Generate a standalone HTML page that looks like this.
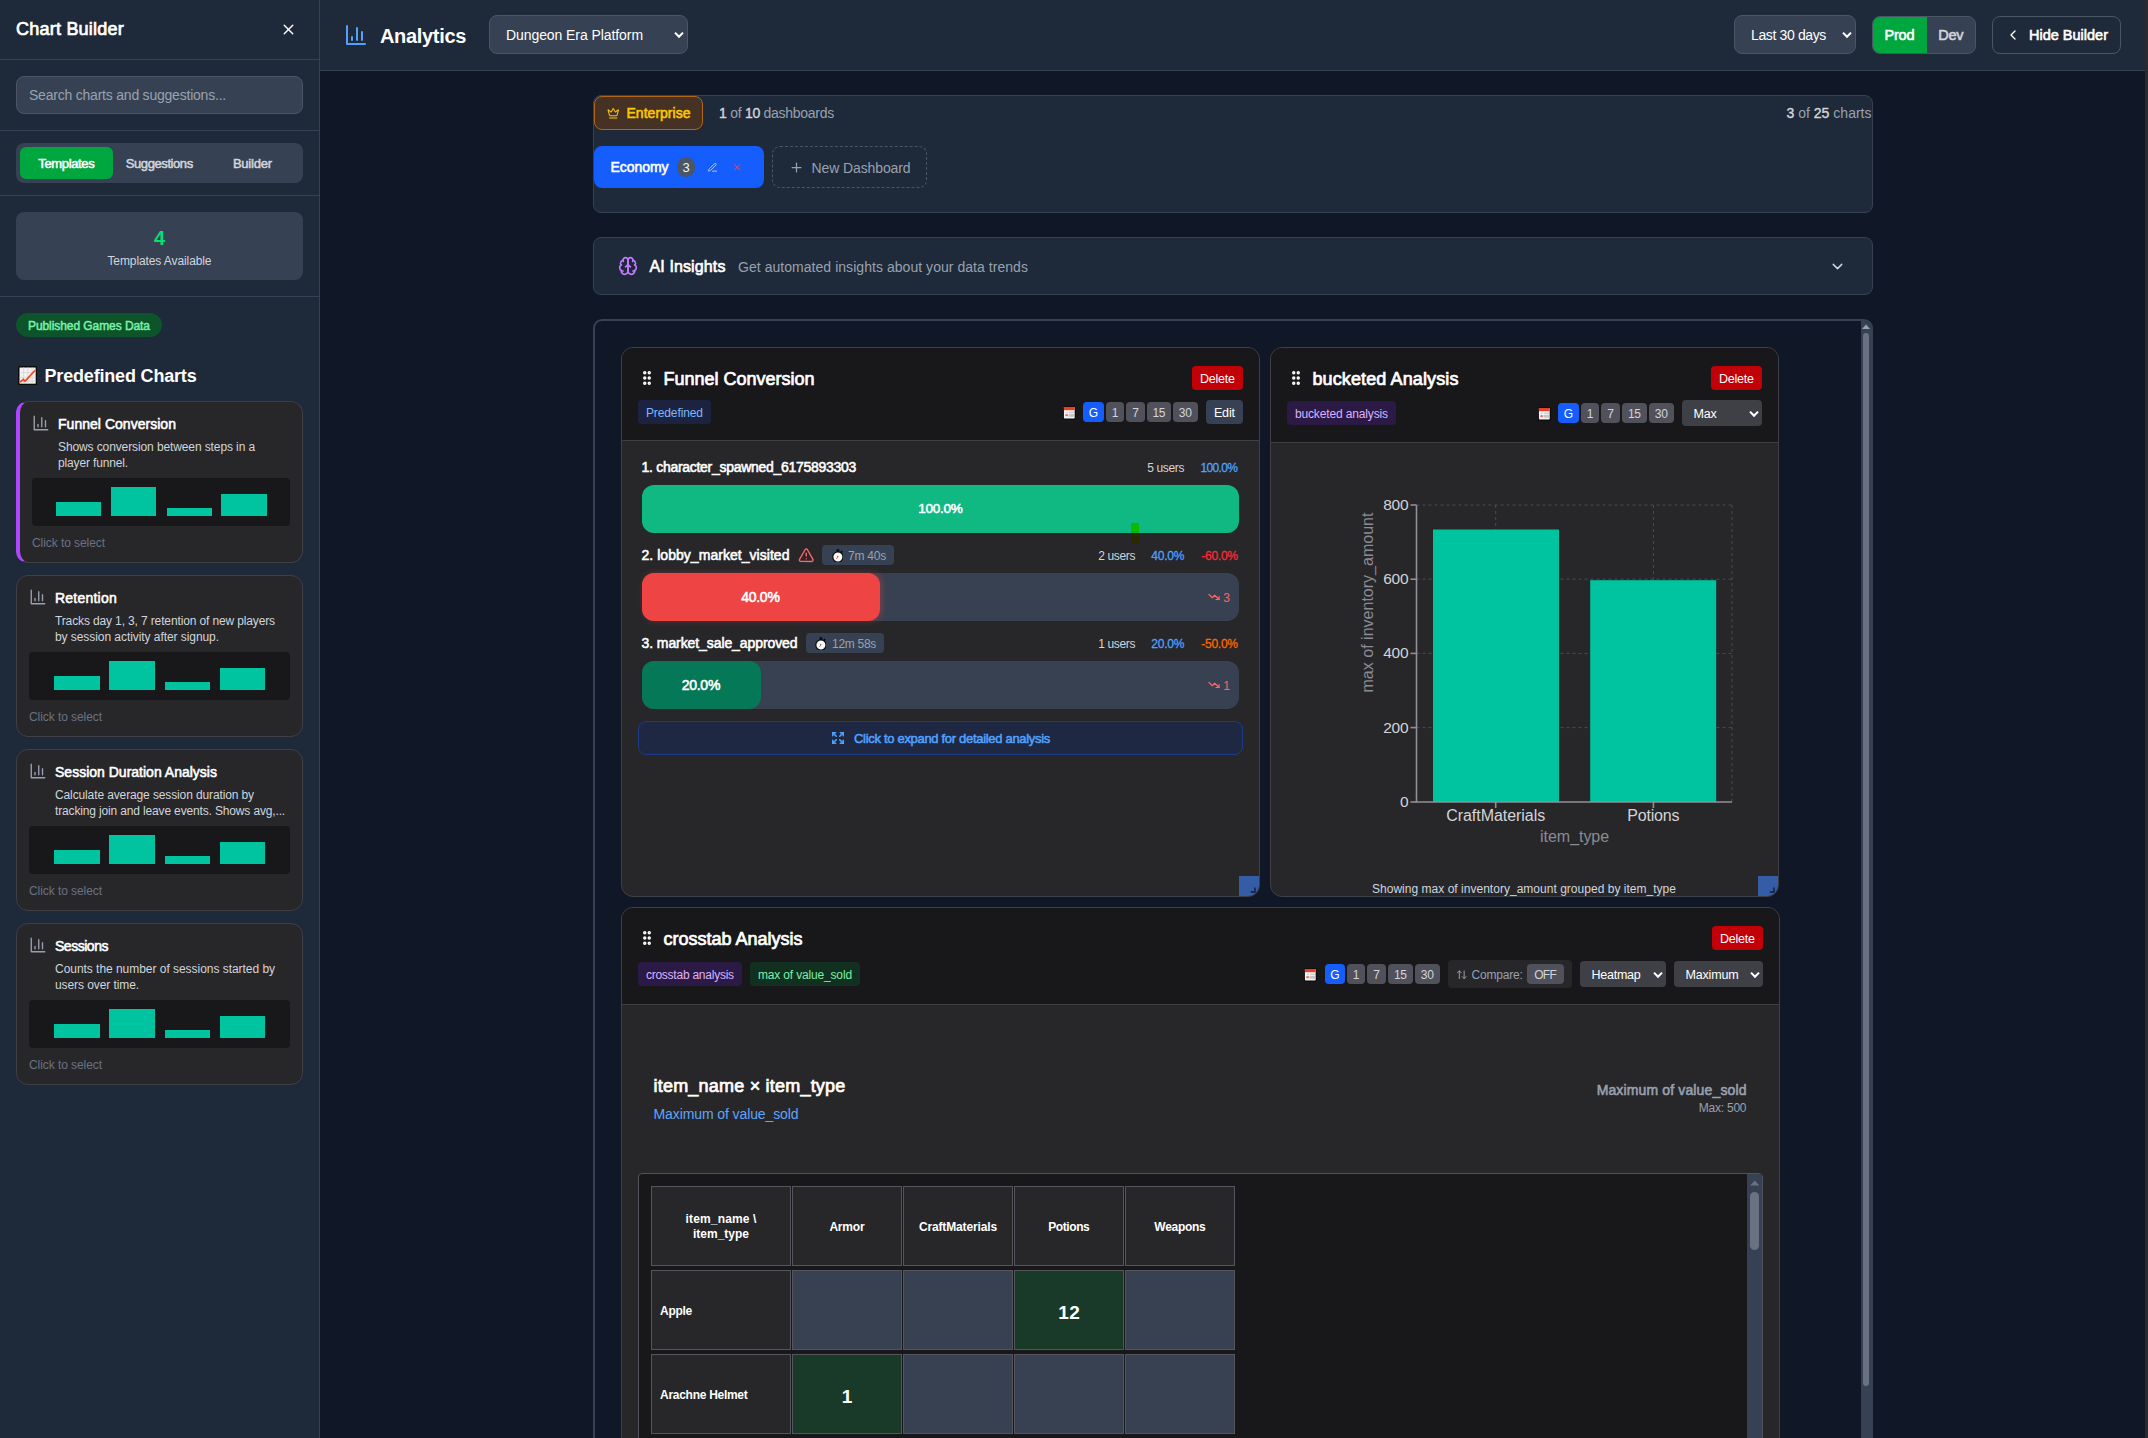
<!DOCTYPE html>
<html lang="en"><head><meta charset="utf-8"><title>Analytics</title>
<style>
*{box-sizing:border-box;margin:0;padding:0}
html,body{width:2148px;height:1438px;overflow:hidden;background:#101828;font-family:"Liberation Sans",sans-serif;color:#fff}
#root{position:relative;width:2148px;height:1438px;overflow:hidden}
.a{position:absolute}
.t{white-space:nowrap}
b{font-weight:400;color:#d1d5dc;-webkit-text-stroke:.4px}
</style></head>
<body><div id="root">
<div class="a" style="left:593px;top:319px;width:1280px;height:1200px;border:2px solid #364153;border-radius:9px;"></div>
<div class="a" style="left:1861px;top:321px;width:10px;height:1200px;background:#364153;border-radius:0 7px 0 0;"></div>
<svg class="a" style="left:1862px;top:324px" width="8" height="5" viewBox="0 0 8 5"><path d="M0 5 4 0.5 8 5z" fill="#99a1af"/></svg>
<div class="a" style="left:1863px;top:333px;width:6px;height:1052.5px;background:#6a7282;border-radius:3px;"></div>
<div class="a" style="left:621px;top:347px;width:639px;height:550px;background:#27272a;border:1px solid #3f3f46;border-radius:12px;overflow:hidden;"><div style="height:93px;background:#18181b;border-bottom:1px solid #3f3f46"></div></div>
<svg class="a" style="left:638px;top:369px;" width="18" height="18" viewBox="0 0 24 24" fill="none" stroke="#fff" stroke-width="2.6" stroke-linecap="round" stroke-linejoin="round"><circle cx="9" cy="12" r="1"/><circle cx="9" cy="5" r="1"/><circle cx="9" cy="19" r="1"/><circle cx="15" cy="12" r="1"/><circle cx="15" cy="5" r="1"/><circle cx="15" cy="19" r="1"/></svg>
<span class="a t" style="top:367.87px;font-size:18px;line-height:23px;color:#fff;-webkit-text-stroke:0.72px;letter-spacing:-0.006px;left:663.5px;">Funnel Conversion</span>
<div class="a" style="left:1192px;top:366px;width:51px;height:24px;background:#c10007;border-radius:4px;"></div>
<span class="a t" style="top:370.76px;font-size:12.5px;line-height:16px;color:#fff;letter-spacing:-0.190px;left:1217.4px;transform:translateX(-50%);">Delete</span>
<div class="a" style="left:638px;top:400px;width:73px;height:24px;background:#1b2341;border-radius:4px;"></div>
<span class="a t" style="top:404.88px;font-size:12px;line-height:16px;color:#7db8ff;letter-spacing:-0.105px;left:674.45px;transform:translateX(-50%);">Predefined</span>
<svg class="a" style="left:1063.2px;top:406.2px" width="12.6" height="13.4" viewBox="0 0 12.6 13.4"><rect x="0" y="0" width="12.6" height="13.4" rx="1.6" fill="#050505"/><rect x="0.9" y="0.9" width="10.8" height="11.6" rx=".7" fill="#f4f4f4"/><rect x="0.9" y="0.9" width="10.8" height="3.3" fill="#e8412b"/><rect x="6" y="5.6" width="5" height="1.6" fill="#cfcfcf"/><rect x="2.6" y="5.6" width="2.6" height="1.6" fill="#dcdcdc"/><rect x="2.4" y="8.2" width="2.4" height="2" fill="#e36a5a"/><rect x="5.6" y="8" width="5.4" height="2.8" fill="#c6c6c6"/></svg>
<div class="a" style="left:1083px;top:402px;width:21px;height:20px;background:#155dfc;border-radius:4px;"></div>
<span class="a t" style="top:404.58px;font-size:12px;line-height:16px;color:#fff;left:1093.5px;transform:translateX(-50%);">G</span>
<div class="a" style="left:1106.1px;top:402px;width:18px;height:20px;background:#51515b;border-radius:4px;"></div>
<span class="a t" style="top:404.58px;font-size:12px;line-height:16px;color:#d1d5dc;left:1115.1px;transform:translateX(-50%);">1</span>
<div class="a" style="left:1126.2px;top:402px;width:18.6px;height:20px;background:#51515b;border-radius:4px;"></div>
<span class="a t" style="top:404.58px;font-size:12px;line-height:16px;color:#d1d5dc;left:1135.5px;transform:translateX(-50%);">7</span>
<div class="a" style="left:1146.9px;top:402px;width:24.1px;height:20px;background:#51515b;border-radius:4px;"></div>
<span class="a t" style="top:404.58px;font-size:12px;line-height:16px;color:#d1d5dc;letter-spacing:-0.380px;left:1158.71px;transform:translateX(-50%);">15</span>
<div class="a" style="left:1173.1px;top:402px;width:24.7px;height:20px;background:#51515b;border-radius:4px;"></div>
<span class="a t" style="top:404.58px;font-size:12px;line-height:16px;color:#d1d5dc;letter-spacing:-0.080px;left:1185.36px;transform:translateX(-50%);">30</span>
<div class="a" style="left:1206px;top:400px;width:37px;height:24px;background:#364153;border-radius:4px;"></div>
<span class="a t" style="top:404.56px;font-size:12.5px;line-height:16px;color:#fff;letter-spacing:-0.137px;left:1224.43px;transform:translateX(-50%);">Edit</span>
<span class="a t" style="top:458.21px;font-size:14px;line-height:18px;color:#fff;-webkit-text-stroke:0.56px;letter-spacing:-0.287px;left:641.5px;">1. character_spawned_6175893303</span>
<span class="a t" style="top:459.58px;font-size:12px;line-height:16px;color:#d1d5dc;letter-spacing:-0.337px;right:963.84px;">5 users</span>
<span class="a t" style="top:459.58px;font-size:12px;line-height:16px;color:#51a2ff;-webkit-text-stroke:0.26px;letter-spacing:-0.617px;right:910.62px;">100.0%</span>
<div class="a" style="left:642px;top:485px;width:597px;height:47.5px;background:#10b981;border-radius:12px;"></div>
<span class="a t" style="top:500.03px;font-size:13.5px;line-height:18px;color:#fff;-webkit-text-stroke:0.54px;letter-spacing:-0.299px;left:940.35px;transform:translateX(-50%);">100.0%</span>
<div class="a" style="left:1131px;top:523px;width:7.5px;height:9.5px;background:#0cb800;"></div>
<div class="a" style="left:1131px;top:532.5px;width:7.5px;height:11px;background:#2a2a02;"></div>
<span class="a t" style="top:546.21px;font-size:14px;line-height:18px;color:#fff;-webkit-text-stroke:0.56px;letter-spacing:0.040px;left:641.5px;">2. lobby_market_visited</span>
<svg class="a" style="left:798px;top:546.5px;" width="16.5" height="16.5" viewBox="0 0 24 24" fill="none" stroke="#ff6467" stroke-width="2" stroke-linecap="round" stroke-linejoin="round"><path d="m21.73 18-8-14a2 2 0 0 0-3.48 0l-8 14A2 2 0 0 0 4 21h16a2 2 0 0 0 1.73-3"/><path d="M12 9v4"/><path d="M12 17h.01"/></svg>
<div class="a" style="left:822px;top:545px;width:72px;height:20px;background:#364153;border-radius:4px;"></div>
<svg class="a" style="left:831.5px;top:548.6px" width="11.8" height="13.8" viewBox="0 0 11.8 13.8"><rect x="4.5" y="0.2" width="2.8" height="2.6" rx=".6" fill="#0a0a0a"/><rect x="8.7" y="2" width="1.9" height="1.7" fill="#0a0a0a" transform="rotate(42 9.6 2.8)"/><circle cx="5.9" cy="8" r="5.1" fill="#fafafa" stroke="#0a0a0a" stroke-width="1.2"/><path d="M5.9 8 L5.1 6.9" stroke="#333" stroke-width=".7" fill="none"/><path d="M6.3 7.6 L4.3 9.9" stroke="#e8412b" stroke-width=".8" fill="none"/></svg>
<span class="a t" style="top:547.78px;font-size:12px;line-height:16px;color:#99a1af;letter-spacing:-0.227px;left:848px;">7m 40s</span>
<span class="a t" style="top:547.58px;font-size:12px;line-height:16px;color:#d1d5dc;letter-spacing:-0.337px;right:1012.84px;">2 users</span>
<span class="a t" style="top:547.58px;font-size:12px;line-height:16px;color:#51a2ff;-webkit-text-stroke:0.26px;letter-spacing:-0.206px;right:963.71px;">40.0%</span>
<span class="a t" style="top:547.58px;font-size:12px;line-height:16px;color:#fb2c36;-webkit-text-stroke:0.26px;letter-spacing:-0.255px;right:910.26px;">-60.0%</span>
<div class="a" style="left:642px;top:573px;width:597px;height:47.5px;background:#374151;border-radius:12px;"></div>
<div class="a" style="left:642px;top:573px;width:238px;height:47.5px;background:#ef4444;border-radius:12px;box-shadow:2px 0 6px rgba(239,68,68,.35);"></div>
<span class="a t" style="top:588.01px;font-size:14px;line-height:18px;color:#fff;-webkit-text-stroke:0.56px;letter-spacing:-0.241px;left:760.38px;transform:translateX(-50%);">40.0%</span>
<svg class="a" style="left:1208px;top:590.5px;" width="12" height="12" viewBox="0 0 24 24" fill="none" stroke="#ff6467" stroke-width="2.4" stroke-linecap="round" stroke-linejoin="round"><polyline points="22 17 13.5 8.5 8.5 13.5 2 7"/><polyline points="16 17 22 17 22 11"/></svg>
<span class="a t" style="top:590.08px;font-size:12px;line-height:16px;color:#ff6467;right:918px;">3</span>
<span class="a t" style="top:634.21px;font-size:14px;line-height:18px;color:#fff;-webkit-text-stroke:0.56px;letter-spacing:-0.087px;left:641.5px;">3. market_sale_approved</span>
<div class="a" style="left:806px;top:633px;width:78px;height:20px;background:#364153;border-radius:4px;"></div>
<svg class="a" style="left:814.7px;top:636.6px" width="11.8" height="13.8" viewBox="0 0 11.8 13.8"><rect x="4.5" y="0.2" width="2.8" height="2.6" rx=".6" fill="#0a0a0a"/><rect x="8.7" y="2" width="1.9" height="1.7" fill="#0a0a0a" transform="rotate(42 9.6 2.8)"/><circle cx="5.9" cy="8" r="5.1" fill="#fafafa" stroke="#0a0a0a" stroke-width="1.2"/><path d="M5.9 8 L5.1 6.9" stroke="#333" stroke-width=".7" fill="none"/><path d="M6.3 7.6 L4.3 9.9" stroke="#e8412b" stroke-width=".8" fill="none"/></svg>
<span class="a t" style="top:635.78px;font-size:12px;line-height:16px;color:#99a1af;letter-spacing:-0.290px;left:832px;">12m 58s</span>
<span class="a t" style="top:635.58px;font-size:12px;line-height:16px;color:#d1d5dc;letter-spacing:-0.337px;right:1012.84px;">1 users</span>
<span class="a t" style="top:635.58px;font-size:12px;line-height:16px;color:#51a2ff;-webkit-text-stroke:0.26px;letter-spacing:-0.206px;right:963.71px;">20.0%</span>
<span class="a t" style="top:635.58px;font-size:12px;line-height:16px;color:#ff6900;-webkit-text-stroke:0.26px;letter-spacing:-0.255px;right:910.26px;">-50.0%</span>
<div class="a" style="left:642px;top:661px;width:597px;height:47.5px;background:#374151;border-radius:12px;"></div>
<div class="a" style="left:642px;top:661px;width:119px;height:47.5px;background:#047857;border-radius:12px;"></div>
<span class="a t" style="top:676.01px;font-size:14px;line-height:18px;color:#fff;-webkit-text-stroke:0.56px;letter-spacing:-0.241px;left:700.88px;transform:translateX(-50%);">20.0%</span>
<svg class="a" style="left:1208px;top:678.5px;" width="12" height="12" viewBox="0 0 24 24" fill="none" stroke="#ff6467" stroke-width="2.4" stroke-linecap="round" stroke-linejoin="round"><polyline points="22 17 13.5 8.5 8.5 13.5 2 7"/><polyline points="16 17 22 17 22 11"/></svg>
<span class="a t" style="top:678.08px;font-size:12px;line-height:16px;color:#ff6467;right:918px;">1</span>
<div class="a" style="left:638px;top:721px;width:605px;height:34px;background:#1e2843;border:1px solid #1d3a8a;border-radius:8px;"></div>
<svg class="a" style="left:831px;top:731.3px;" width="14" height="14" viewBox="0 0 24 24" fill="none" stroke="#51a2ff" stroke-width="2.6" stroke-linecap="round" stroke-linejoin="round"><path d="m15 15 6 6"/><path d="m15 9 6-6"/><path d="M21 16v5h-5"/><path d="M21 8V3h-5"/><path d="M3 16v5h5"/><path d="m3 21 6-6"/><path d="M3 8V3h5"/><path d="M9 9 3 3"/></svg>
<span class="a t" style="top:730.04px;font-size:13px;line-height:17px;color:#51a2ff;-webkit-text-stroke:0.52px;letter-spacing:-0.308px;left:854px;">Click to expand for detailed analysis</span>
<div class="a" style="left:1239px;top:876px;width:20px;height:20px;background:#345da6;border-radius:0 0 11px 0;"></div>
<svg class="a" style="left:1250px;top:887px" width="6" height="6" viewBox="0 0 6 6"><path d="M5 0.5V5H0.8" stroke="#131c38" stroke-width="1.4" fill="none"/></svg>
<div class="a" style="left:1270px;top:347px;width:509px;height:550px;background:#27272a;border:1px solid #3f3f46;border-radius:12px;overflow:hidden;"><div style="height:95px;background:#18181b;border-bottom:1px solid #3f3f46"></div></div>
<svg class="a" style="left:1287px;top:369px;" width="18" height="18" viewBox="0 0 24 24" fill="none" stroke="#fff" stroke-width="2.6" stroke-linecap="round" stroke-linejoin="round"><circle cx="9" cy="12" r="1"/><circle cx="9" cy="5" r="1"/><circle cx="9" cy="19" r="1"/><circle cx="15" cy="12" r="1"/><circle cx="15" cy="5" r="1"/><circle cx="15" cy="19" r="1"/></svg>
<span class="a t" style="top:367.87px;font-size:18px;line-height:23px;color:#fff;-webkit-text-stroke:0.72px;letter-spacing:0.112px;left:1312.5px;">bucketed Analysis</span>
<div class="a" style="left:1711px;top:366px;width:51px;height:24px;background:#c10007;border-radius:4px;"></div>
<span class="a t" style="top:370.76px;font-size:12.5px;line-height:16px;color:#fff;letter-spacing:-0.190px;left:1736.4px;transform:translateX(-50%);">Delete</span>
<div class="a" style="left:1287px;top:401px;width:109px;height:24px;background:#2b1a45;border-radius:4px;"></div>
<span class="a t" style="top:405.88px;font-size:12px;line-height:16px;color:#dab2ff;letter-spacing:-0.141px;left:1341.43px;transform:translateX(-50%);">bucketed analysis</span>
<svg class="a" style="left:1538.3px;top:407.2px" width="12.6" height="13.4" viewBox="0 0 12.6 13.4"><rect x="0" y="0" width="12.6" height="13.4" rx="1.6" fill="#050505"/><rect x="0.9" y="0.9" width="10.8" height="11.6" rx=".7" fill="#f4f4f4"/><rect x="0.9" y="0.9" width="10.8" height="3.3" fill="#e8412b"/><rect x="6" y="5.6" width="5" height="1.6" fill="#cfcfcf"/><rect x="2.6" y="5.6" width="2.6" height="1.6" fill="#dcdcdc"/><rect x="2.4" y="8.2" width="2.4" height="2" fill="#e36a5a"/><rect x="5.6" y="8" width="5.4" height="2.8" fill="#c6c6c6"/></svg>
<div class="a" style="left:1558px;top:403px;width:21px;height:20px;background:#155dfc;border-radius:4px;"></div>
<span class="a t" style="top:405.58px;font-size:12px;line-height:16px;color:#fff;left:1568.5px;transform:translateX(-50%);">G</span>
<div class="a" style="left:1581px;top:403px;width:18px;height:20px;background:#51515b;border-radius:4px;"></div>
<span class="a t" style="top:405.58px;font-size:12px;line-height:16px;color:#d1d5dc;left:1590.0px;transform:translateX(-50%);">1</span>
<div class="a" style="left:1601px;top:403px;width:19px;height:20px;background:#51515b;border-radius:4px;"></div>
<span class="a t" style="top:405.58px;font-size:12px;line-height:16px;color:#d1d5dc;left:1610.5px;transform:translateX(-50%);">7</span>
<div class="a" style="left:1622px;top:403px;width:24.8px;height:20px;background:#51515b;border-radius:4px;"></div>
<span class="a t" style="top:405.58px;font-size:12px;line-height:16px;color:#d1d5dc;letter-spacing:-0.380px;left:1634.21px;transform:translateX(-50%);">15</span>
<div class="a" style="left:1648.8px;top:403px;width:25.2px;height:20px;background:#51515b;border-radius:4px;"></div>
<span class="a t" style="top:405.58px;font-size:12px;line-height:16px;color:#d1d5dc;letter-spacing:-0.080px;left:1661.36px;transform:translateX(-50%);">30</span>
<div class="a" style="left:1682px;top:400px;width:80px;height:26px;background:#3f3f46;border-radius:4px;"></div>
<span class="a t" style="top:405.56px;font-size:12.5px;line-height:16px;color:#fff;letter-spacing:-0.208px;left:1693.5px;">Max</span>
<svg class="a" style="left:1748px;top:407.5px" width="12" height="12" viewBox="0 0 12 12" fill="none" stroke="#fff" stroke-width="2" stroke-linecap="butt" stroke-linejoin="miter"><path d="M2 3.6 6 7.8 10 3.6"/></svg>
<svg class="a" style="left:0;top:0" width="2148" height="1438" viewBox="0 0 2148 1438"><path d="M1416.5 505H1732" stroke="#4a4a50" stroke-width="1" stroke-dasharray="3 3"/><path d="M1416.5 579.2H1732" stroke="#4a4a50" stroke-width="1" stroke-dasharray="3 3"/><path d="M1416.5 653.4H1732" stroke="#4a4a50" stroke-width="1" stroke-dasharray="3 3"/><path d="M1416.5 727.6H1732" stroke="#4a4a50" stroke-width="1" stroke-dasharray="3 3"/><path d="M1495.7 505V802" stroke="#4a4a50" stroke-width="1" stroke-dasharray="3 3"/><path d="M1653.4 505V802" stroke="#4a4a50" stroke-width="1" stroke-dasharray="3 3"/><path d="M1732 505V802" stroke="#4a4a50" stroke-width="1" stroke-dasharray="3 3"/><rect x="1433" y="529.5" width="126" height="272.5" fill="#00c49f"/><rect x="1590.2" y="580.2" width="126" height="221.79999999999995" fill="#00c49f"/><path d="M1416.5 505V802H1732" stroke="#909095" stroke-width="1.6" fill="none"/><path d="M1410.5 505H1416.5" stroke="#909095" stroke-width="1.6"/><path d="M1410.5 579.2H1416.5" stroke="#909095" stroke-width="1.6"/><path d="M1410.5 653.4H1416.5" stroke="#909095" stroke-width="1.6"/><path d="M1410.5 727.6H1416.5" stroke="#909095" stroke-width="1.6"/><path d="M1410.5 802H1416.5" stroke="#909095" stroke-width="1.6"/><path d="M1495.7 802V808" stroke="#909095" stroke-width="1.6"/><path d="M1653.4 802V808" stroke="#909095" stroke-width="1.6"/></svg>
<span class="a t" style="top:494.96px;font-size:15.5px;line-height:20px;color:#d4d4d8;letter-spacing:-0.292px;right:739.79px;">800</span>
<span class="a t" style="top:569.16px;font-size:15.5px;line-height:20px;color:#d4d4d8;letter-spacing:-0.292px;right:739.79px;">600</span>
<span class="a t" style="top:643.36px;font-size:15.5px;line-height:20px;color:#d4d4d8;letter-spacing:-0.292px;right:739.79px;">400</span>
<span class="a t" style="top:717.56px;font-size:15.5px;line-height:20px;color:#d4d4d8;letter-spacing:-0.292px;right:739.79px;">200</span>
<span class="a t" style="top:791.96px;font-size:15.5px;line-height:20px;color:#d4d4d8;letter-spacing:-0.125px;right:739.62px;">0</span>
<span class="a t" style="top:804.94px;font-size:16px;line-height:21px;color:#d4d4d8;letter-spacing:-0.041px;left:1495.68px;transform:translateX(-50%);">CraftMaterials</span>
<span class="a t" style="top:804.94px;font-size:16px;line-height:21px;color:#d4d4d8;letter-spacing:-0.196px;left:1653.3px;transform:translateX(-50%);">Potions</span>
<span class="a t" style="top:825.94px;font-size:16px;line-height:21px;color:#8b8b93;letter-spacing:-0.042px;left:1574.58px;transform:translateX(-50%);">item_type</span>
<span class="a t" style="top:592.44px;font-size:16px;line-height:21px;color:#8b8b93;letter-spacing:0.015px;left:1367.01px;transform:translateX(-50%) rotate(-90deg);">max of inventory_amount</span>
<span class="a t" style="top:880.58px;font-size:12px;line-height:16px;color:#d1d5dc;letter-spacing:0.022px;left:1524.01px;transform:translateX(-50%);">Showing max of inventory_amount grouped by item_type</span>
<div class="a" style="left:1758px;top:876px;width:20px;height:20px;background:#345da6;border-radius:0 0 11px 0;"></div>
<svg class="a" style="left:1769px;top:887px" width="6" height="6" viewBox="0 0 6 6"><path d="M5 0.5V5H0.8" stroke="#131c38" stroke-width="1.4" fill="none"/></svg>
<div class="a" style="left:621px;top:907px;width:1159px;height:700px;background:#27272a;border:1px solid #3f3f46;border-radius:12px;overflow:hidden;"><div style="height:97px;background:#18181b;border-bottom:1px solid #3f3f46"></div></div>
<svg class="a" style="left:638px;top:929px;" width="18" height="18" viewBox="0 0 24 24" fill="none" stroke="#fff" stroke-width="2.6" stroke-linecap="round" stroke-linejoin="round"><circle cx="9" cy="12" r="1"/><circle cx="9" cy="5" r="1"/><circle cx="9" cy="19" r="1"/><circle cx="15" cy="12" r="1"/><circle cx="15" cy="5" r="1"/><circle cx="15" cy="19" r="1"/></svg>
<span class="a t" style="top:927.87px;font-size:18px;line-height:23px;color:#fff;-webkit-text-stroke:0.72px;letter-spacing:-0.004px;left:663.5px;">crosstab Analysis</span>
<div class="a" style="left:1712px;top:926px;width:51px;height:24px;background:#c10007;border-radius:4px;"></div>
<span class="a t" style="top:930.76px;font-size:12.5px;line-height:16px;color:#fff;letter-spacing:-0.190px;left:1737.4px;transform:translateX(-50%);">Delete</span>
<div class="a" style="left:638px;top:962px;width:104px;height:24px;background:#2b1a45;border-radius:4px;"></div>
<span class="a t" style="top:966.88px;font-size:12px;line-height:16px;color:#dab2ff;letter-spacing:-0.238px;left:689.88px;transform:translateX(-50%);">crosstab analysis</span>
<div class="a" style="left:750px;top:962px;width:110px;height:24px;background:#12301f;border-radius:4px;"></div>
<span class="a t" style="top:966.88px;font-size:12px;line-height:16px;color:#7bf1a8;letter-spacing:-0.161px;left:804.92px;transform:translateX(-50%);">max of value_sold</span>
<svg class="a" style="left:1304.4px;top:968.2px" width="12.6" height="13.4" viewBox="0 0 12.6 13.4"><rect x="0" y="0" width="12.6" height="13.4" rx="1.6" fill="#050505"/><rect x="0.9" y="0.9" width="10.8" height="11.6" rx=".7" fill="#f4f4f4"/><rect x="0.9" y="0.9" width="10.8" height="3.3" fill="#e8412b"/><rect x="6" y="5.6" width="5" height="1.6" fill="#cfcfcf"/><rect x="2.6" y="5.6" width="2.6" height="1.6" fill="#dcdcdc"/><rect x="2.4" y="8.2" width="2.4" height="2" fill="#e36a5a"/><rect x="5.6" y="8" width="5.4" height="2.8" fill="#c6c6c6"/></svg>
<div class="a" style="left:1325px;top:964px;width:20px;height:20px;background:#155dfc;border-radius:4px;"></div>
<span class="a t" style="top:966.58px;font-size:12px;line-height:16px;color:#fff;left:1335.0px;transform:translateX(-50%);">G</span>
<div class="a" style="left:1347.1px;top:964px;width:18px;height:20px;background:#51515b;border-radius:4px;"></div>
<span class="a t" style="top:966.58px;font-size:12px;line-height:16px;color:#d1d5dc;left:1356.1px;transform:translateX(-50%);">1</span>
<div class="a" style="left:1367.2px;top:964px;width:18.7px;height:20px;background:#51515b;border-radius:4px;"></div>
<span class="a t" style="top:966.58px;font-size:12px;line-height:16px;color:#d1d5dc;left:1376.5px;transform:translateX(-50%);">7</span>
<div class="a" style="left:1388.0px;top:964px;width:24.8px;height:20px;background:#51515b;border-radius:4px;"></div>
<span class="a t" style="top:966.58px;font-size:12px;line-height:16px;color:#d1d5dc;letter-spacing:-0.380px;left:1400.21px;transform:translateX(-50%);">15</span>
<div class="a" style="left:1414.9px;top:964px;width:25px;height:20px;background:#51515b;border-radius:4px;"></div>
<span class="a t" style="top:966.58px;font-size:12px;line-height:16px;color:#d1d5dc;letter-spacing:-0.080px;left:1427.36px;transform:translateX(-50%);">30</span>
<div class="a" style="left:1448px;top:960px;width:124px;height:28px;background:#27272a;border-radius:4px;"></div>
<svg class="a" style="left:1456px;top:969px;" width="11.5" height="11.5" viewBox="0 0 24 24" fill="none" stroke="#99a1af" stroke-width="2" stroke-linecap="round" stroke-linejoin="round"><path d="m21 16-4 4-4-4"/><path d="M17 20V4"/><path d="m3 8 4-4 4 4"/><path d="M7 4v16"/></svg>
<span class="a t" style="top:966.58px;font-size:12px;line-height:16px;color:#99a1af;letter-spacing:-0.211px;left:1471.5px;">Compare:</span>
<div class="a" style="left:1527px;top:964px;width:37px;height:20px;background:#51515b;border-radius:4px;"></div>
<span class="a t" style="top:966.58px;font-size:12px;line-height:16px;color:#d1d5dc;letter-spacing:-0.667px;left:1545.17px;transform:translateX(-50%);">OFF</span>
<div class="a" style="left:1580px;top:961px;width:86px;height:26px;background:#3f3f46;border-radius:4px;"></div>
<span class="a t" style="top:966.56px;font-size:12.5px;line-height:16px;color:#fff;letter-spacing:-0.248px;left:1591.5px;">Heatmap</span>
<svg class="a" style="left:1651.5px;top:968.5px" width="12" height="12" viewBox="0 0 12 12" fill="none" stroke="#fff" stroke-width="2" stroke-linecap="butt" stroke-linejoin="miter"><path d="M2 3.6 6 7.8 10 3.6"/></svg>
<div class="a" style="left:1674px;top:961px;width:89px;height:26px;background:#3f3f46;border-radius:4px;"></div>
<span class="a t" style="top:966.56px;font-size:12.5px;line-height:16px;color:#fff;letter-spacing:-0.167px;left:1685.5px;">Maximum</span>
<svg class="a" style="left:1748.5px;top:968.5px" width="12" height="12" viewBox="0 0 12 12" fill="none" stroke="#fff" stroke-width="2" stroke-linecap="butt" stroke-linejoin="miter"><path d="M2 3.6 6 7.8 10 3.6"/></svg>
<span class="a t" style="top:1075.37px;font-size:18px;line-height:23px;color:#fff;-webkit-text-stroke:0.72px;letter-spacing:0.210px;left:653.5px;">item_name × item_type</span>
<span class="a t" style="top:1104.51px;font-size:14px;line-height:18px;color:#60a5fa;letter-spacing:-0.098px;left:653.5px;">Maximum of value_sold</span>
<span class="a t" style="top:1080.51px;font-size:14px;line-height:18px;color:#99a1af;-webkit-text-stroke:0.56px;letter-spacing:0.140px;right:401.36px;">Maximum of value_sold</span>
<span class="a t" style="top:1099.58px;font-size:12px;line-height:16px;color:#99a1af;letter-spacing:-0.232px;right:401.73px;">Max: 500</span>
<div class="a" style="left:638px;top:1173px;width:1125px;height:400px;background:#18181b;border:1px solid #52525c;border-radius:4px 4px 0 0;"></div>
<div class="a" style="left:1747px;top:1174px;width:15px;height:400px;background:#364153;border-radius:0 3px 0 0;"></div>
<svg class="a" style="left:1750px;top:1180px" width="9.5" height="5.5" viewBox="0 0 10 6"><path d="M0 6 5 0.5 10 6z" fill="#6a7282"/></svg>
<div class="a" style="left:1750px;top:1192px;width:9px;height:58px;background:#6a7282;border-radius:4.5px;"></div>
<div class="a" style="left:651px;top:1186px;width:140px;height:80px;background:#27272a;border:1px solid #55555e;"></div>
<span class="a t" style="top:1210.58px;font-size:12px;line-height:16px;color:#fff;font-weight:700;letter-spacing:0.148px;left:721.07px;transform:translateX(-50%);">item_name \</span>
<span class="a t" style="top:1225.58px;font-size:12px;line-height:16px;color:#fff;font-weight:700;letter-spacing:-0.003px;left:721.0px;transform:translateX(-50%);">item_type</span>
<div class="a" style="left:792px;top:1186px;width:110px;height:80px;background:#27272a;border:1px solid #55555e;"></div>
<span class="a t" style="top:1218.58px;font-size:12px;line-height:16px;color:#fff;font-weight:700;letter-spacing:-0.203px;left:846.9px;transform:translateX(-50%);">Armor</span>
<div class="a" style="left:903px;top:1186px;width:110px;height:80px;background:#27272a;border:1px solid #55555e;"></div>
<span class="a t" style="top:1218.58px;font-size:12px;line-height:16px;color:#fff;font-weight:700;letter-spacing:-0.145px;left:957.93px;transform:translateX(-50%);">CraftMaterials</span>
<div class="a" style="left:1014px;top:1186px;width:110px;height:80px;background:#27272a;border:1px solid #55555e;"></div>
<span class="a t" style="top:1218.58px;font-size:12px;line-height:16px;color:#fff;font-weight:700;letter-spacing:-0.429px;left:1068.79px;transform:translateX(-50%);">Potions</span>
<div class="a" style="left:1125px;top:1186px;width:110px;height:80px;background:#27272a;border:1px solid #55555e;"></div>
<span class="a t" style="top:1218.58px;font-size:12px;line-height:16px;color:#fff;font-weight:700;letter-spacing:-0.304px;left:1179.85px;transform:translateX(-50%);">Weapons</span>
<div class="a" style="left:651px;top:1270px;width:140px;height:80px;background:#27272a;border:1px solid #55555e;"></div>
<span class="a t" style="top:1302.58px;font-size:12px;line-height:16px;color:#fff;font-weight:700;letter-spacing:-0.269px;left:660px;">Apple</span>
<div class="a" style="left:792px;top:1270px;width:110px;height:80px;background:#374151;border:1px solid #55555e;"></div>
<div class="a" style="left:903px;top:1270px;width:110px;height:80px;background:#374151;border:1px solid #55555e;"></div>
<div class="a" style="left:1014px;top:1270px;width:110px;height:80px;background:#1a3a29;border:1px solid #55555e;"></div>
<span class="a t" style="top:1299.84px;font-size:19px;line-height:25px;color:#fff;font-weight:700;letter-spacing:0.330px;left:1069.16px;transform:translateX(-50%);">12</span>
<div class="a" style="left:1125px;top:1270px;width:110px;height:80px;background:#374151;border:1px solid #55555e;"></div>
<div class="a" style="left:651px;top:1354px;width:140px;height:80px;background:#27272a;border:1px solid #55555e;"></div>
<span class="a t" style="top:1386.58px;font-size:12px;line-height:16px;color:#fff;font-weight:700;letter-spacing:-0.277px;left:660px;">Arachne Helmet</span>
<div class="a" style="left:792px;top:1354px;width:110px;height:80px;background:#1a3a29;border:1px solid #55555e;"></div>
<span class="a t" style="top:1383.84px;font-size:19px;line-height:25px;color:#fff;font-weight:700;left:847.0px;transform:translateX(-50%);">1</span>
<div class="a" style="left:903px;top:1354px;width:110px;height:80px;background:#374151;border:1px solid #55555e;"></div>
<div class="a" style="left:1014px;top:1354px;width:110px;height:80px;background:#374151;border:1px solid #55555e;"></div>
<div class="a" style="left:1125px;top:1354px;width:110px;height:80px;background:#374151;border:1px solid #55555e;"></div>
<div class="a" style="left:593px;top:95px;width:1280px;height:118px;background:#1e2939;border:1px solid #364153;border-radius:8px;"></div>
<div class="a" style="left:594px;top:96px;width:109px;height:34px;background:#463224;border:1px solid #b1660f;border-radius:8px;"></div>
<svg class="a" style="left:606.5px;top:107px;" width="12.5" height="12.5" viewBox="0 0 24 24" fill="none" stroke="#fdc700" stroke-width="2" stroke-linecap="round" stroke-linejoin="round"><path d="M11.562 3.266a.5.5 0 0 1 .876 0L15.39 8.87a1 1 0 0 0 1.516.294L21.183 5.5a.5.5 0 0 1 .798.519l-2.834 10.246a1 1 0 0 1-.956.734H5.81a1 1 0 0 1-.957-.734L2.02 6.02a.5.5 0 0 1 .798-.519l4.276 3.664a1 1 0 0 0 1.516-.294z"/><path d="M5 21h14"/></svg>
<span class="a t" style="top:104.01px;font-size:14px;line-height:18px;color:#fdc700;-webkit-text-stroke:0.56px;letter-spacing:0.019px;left:626.5px;">Enterprise</span>
<span class="a t" style="top:104.01px;font-size:14px;line-height:18px;color:#99a1af;letter-spacing:-0.273px;left:719px;"><b>1</b> of <b>10</b> dashboards</span>
<span class="a t" style="top:104.01px;font-size:14px;line-height:18px;color:#99a1af;letter-spacing:0.010px;right:276.49px;"><b>3</b> of <b>25</b> charts</span>
<div class="a" style="left:594px;top:146px;width:170px;height:42px;background:#155dfc;border-radius:8px;"></div>
<span class="a t" style="top:158.01px;font-size:14px;line-height:18px;color:#fff;-webkit-text-stroke:0.56px;letter-spacing:-0.051px;left:610.5px;">Economy</span>
<div class="a" style="left:677px;top:157px;width:18px;height:20px;background:#4a5565;border-radius:9px;"></div>
<span class="a t" style="top:158.54px;font-size:13px;line-height:17px;color:#f3f4f6;left:686.0px;transform:translateX(-50%);">3</span>
<svg class="a" style="left:707px;top:162px;" width="11" height="11" viewBox="0 0 24 24" fill="none" stroke="#b8cffb" stroke-width="2" stroke-linecap="round" stroke-linejoin="round"><path d="M12 20h9"/><path d="M16.376 3.622a1 1 0 0 1 3.002 3.002L7.368 18.635a2 2 0 0 1-.855.506l-2.872.838a.5.5 0 0 1-.62-.62l.838-2.872a2 2 0 0 1 .506-.854z"/></svg>
<svg class="a" style="left:731.5px;top:162px;" width="10.5" height="10.5" viewBox="0 0 24 24" fill="none" stroke="#e8557f" stroke-width="1.9" stroke-linecap="round" stroke-linejoin="round"><path d="M18 6 6 18"/><path d="m6 6 12 12"/></svg>
<div class="a" style="left:772px;top:146px;width:155px;height:42px;border:1px dashed #4a5565;border-radius:8px;"></div>
<svg class="a" style="left:788.5px;top:159.6px;" width="15" height="15" viewBox="0 0 24 24" fill="none" stroke="#99a1af" stroke-width="2" stroke-linecap="round" stroke-linejoin="round"><path d="M5 12h14"/><path d="M12 5v14"/></svg>
<span class="a t" style="top:158.71px;font-size:14px;line-height:18px;color:#99a1af;letter-spacing:-0.107px;left:811.5px;">New Dashboard</span>
<div class="a" style="left:593px;top:237px;width:1280px;height:58px;background:#1e2939;border:1px solid #364153;border-radius:8px;"></div>
<svg class="a" style="left:617.5px;top:256px;" width="20" height="20" viewBox="0 0 24 24" fill="none" stroke="#c27aff" stroke-width="2" stroke-linecap="round" stroke-linejoin="round"><path d="M12 5a3 3 0 1 0-5.997.125 4 4 0 0 0-2.526 5.77 4 4 0 0 0 .556 6.588A4 4 0 1 0 12 18Z"/><path d="M12 5a3 3 0 1 1 5.997.125 4 4 0 0 1 2.526 5.77 4 4 0 0 1-.556 6.588A4 4 0 1 1 12 18Z"/><path d="M15 13a4.5 4.5 0 0 1-3-4 4.5 4.5 0 0 1-3 4"/><path d="M17.599 6.5a3 3 0 0 0 .399-1.375"/><path d="M6.003 5.125A3 3 0 0 0 6.401 6.5"/><path d="M3.477 10.896a4 4 0 0 1 .585-.396"/><path d="M19.938 10.5a4 4 0 0 1 .585.396"/><path d="M6 18a4 4 0 0 1-1.967-.516"/><path d="M19.967 17.484A4 4 0 0 1 18 18"/></svg>
<span class="a t" style="top:255.94px;font-size:16px;line-height:21px;color:#fff;-webkit-text-stroke:0.64px;letter-spacing:0.118px;left:649.5px;">AI Insights</span>
<span class="a t" style="top:257.51px;font-size:14px;line-height:18px;color:#99a1af;letter-spacing:0.045px;left:738px;">Get automated insights about your data trends</span>
<svg class="a" style="left:1829px;top:258px;" width="17" height="17" viewBox="0 0 24 24" fill="none" stroke="#d1d5dc" stroke-width="2" stroke-linecap="round" stroke-linejoin="round"><path d="m6 9 6 6 6-6"/></svg>
<div class="a" style="left:320px;top:0px;width:1825px;height:70px;background:#1e2939;"></div>
<div class="a" style="left:320px;top:70px;width:1825px;height:1px;background:#364153;"></div>
<svg class="a" style="left:344px;top:23px;" width="24" height="24" viewBox="0 0 24 24" fill="none" stroke="#51a2ff" stroke-width="2" stroke-linecap="round" stroke-linejoin="round"><path d="M3 3v18h18"/><path d="M18 17V9"/><path d="M13 17V5"/><path d="M8 17v-3"/></svg>
<span class="a t" style="top:23.1px;font-size:20px;line-height:26px;color:#fff;font-weight:700;letter-spacing:-0.326px;left:380px;">Analytics</span>
<div class="a" style="left:489px;top:15px;width:199px;height:39px;background:#364153;border:1px solid #4a5565;border-radius:8px;"></div>
<span class="a t" style="top:26.01px;font-size:14px;line-height:18px;color:#fff;letter-spacing:-0.077px;left:506px;">Dungeon Era Platform</span>
<svg class="a" style="left:672.5px;top:29px" width="12" height="12" viewBox="0 0 12 12" fill="none" stroke="#fff" stroke-width="2" stroke-linecap="butt" stroke-linejoin="miter"><path d="M2 3.6 6 7.8 10 3.6"/></svg>
<div class="a" style="left:1734px;top:15px;width:122px;height:39px;background:#364153;border:1px solid #4a5565;border-radius:8px;"></div>
<span class="a t" style="top:26.01px;font-size:14px;line-height:18px;color:#fff;letter-spacing:-0.366px;left:1751px;">Last 30 days</span>
<svg class="a" style="left:1841px;top:29px" width="12" height="12" viewBox="0 0 12 12" fill="none" stroke="#fff" stroke-width="2" stroke-linecap="butt" stroke-linejoin="miter"><path d="M2 3.6 6 7.8 10 3.6"/></svg>
<div class="a" style="left:1872px;top:16px;width:104px;height:38px;background:#364153;border:1px solid #4a5565;border-radius:8px;"></div>
<div class="a" style="left:1873px;top:17px;width:54px;height:36px;background:#00a63e;border-radius:7px 0 0 7px;"></div>
<span class="a t" style="top:26.49px;font-size:14.5px;line-height:19px;color:#fff;-webkit-text-stroke:0.58px;letter-spacing:-0.160px;left:1899.42px;transform:translateX(-50%);">Prod</span>
<span class="a t" style="top:26.49px;font-size:14.5px;line-height:19px;color:#d1d5dc;-webkit-text-stroke:0.58px;letter-spacing:-0.266px;left:1950.87px;transform:translateX(-50%);">Dev</span>
<div class="a" style="left:1992px;top:16px;width:129px;height:38px;background:#1e2939;border:1px solid #4a5565;border-radius:8px;"></div>
<svg class="a" style="left:2005px;top:27px;" width="16" height="16" viewBox="0 0 24 24" fill="none" stroke="#fff" stroke-width="2" stroke-linecap="round" stroke-linejoin="round"><path d="m15 18-6-6 6-6"/></svg>
<span class="a t" style="top:26.49px;font-size:14.5px;line-height:19px;color:#fff;-webkit-text-stroke:0.58px;left:2029px;">Hide Builder</span>
<div class="a" style="left:2145px;top:0px;width:3px;height:1438px;background:#2b2b2b;"></div>
<div class="a" style="left:0px;top:0px;width:320px;height:1438px;background:#1e2939;border-right:1px solid #364153;"></div>
<span class="a t" style="top:18.37px;font-size:18px;line-height:23px;color:#fff;-webkit-text-stroke:0.72px;letter-spacing:0.227px;left:16px;">Chart Builder</span>
<svg class="a" style="left:280px;top:20.5px;" width="17" height="17" viewBox="0 0 24 24" fill="none" stroke="#fff" stroke-width="2" stroke-linecap="round" stroke-linejoin="round"><path d="M18 6 6 18"/><path d="m6 6 12 12"/></svg>
<div class="a" style="left:0px;top:59px;width:319px;height:1px;background:#364153;"></div>
<div class="a" style="left:16px;top:76px;width:287px;height:38px;background:#364153;border:1px solid #4a5565;border-radius:8px;"></div>
<span class="a t" style="top:85.91px;font-size:14px;line-height:18px;color:#99a1af;letter-spacing:-0.216px;left:29px;">Search charts and suggestions...</span>
<div class="a" style="left:0px;top:130px;width:319px;height:1px;background:#364153;"></div>
<div class="a" style="left:16px;top:143px;width:287px;height:40px;background:#364153;border-radius:8px;"></div>
<div class="a" style="left:20px;top:147px;width:93px;height:32px;background:#00a63e;border-radius:6px;"></div>
<span class="a t" style="top:155.04px;font-size:13px;line-height:17px;color:#fff;-webkit-text-stroke:0.52px;letter-spacing:-0.361px;left:66.32px;transform:translateX(-50%);">Templates</span>
<span class="a t" style="top:155.04px;font-size:13px;line-height:17px;color:#d1d5dc;-webkit-text-stroke:0.52px;letter-spacing:-0.415px;left:159.29px;transform:translateX(-50%);">Suggestions</span>
<span class="a t" style="top:155.04px;font-size:13px;line-height:17px;color:#d1d5dc;-webkit-text-stroke:0.52px;letter-spacing:-0.210px;left:252.4px;transform:translateX(-50%);">Builder</span>
<div class="a" style="left:0px;top:195px;width:319px;height:1px;background:#364153;"></div>
<div class="a" style="left:16px;top:212px;width:287px;height:68px;background:#364153;border-radius:8px;"></div>
<span class="a t" style="top:224.8px;font-size:20px;line-height:26px;color:#05df72;font-weight:700;left:159.5px;transform:translateX(-50%);">4</span>
<span class="a t" style="top:252.58px;font-size:12px;line-height:16px;color:#d1d5dc;letter-spacing:-0.097px;left:159.45px;transform:translateX(-50%);">Templates Available</span>
<div class="a" style="left:0px;top:296px;width:319px;height:1px;background:#364153;"></div>
<div class="a" style="left:16px;top:313px;width:146px;height:24px;background:#0d542b;border-radius:12px;"></div>
<span class="a t" style="top:317.58px;font-size:12px;line-height:16px;color:#7bf1a8;-webkit-text-stroke:0.48px;letter-spacing:-0.070px;left:88.96px;transform:translateX(-50%);">Published Games Data</span>
<svg class="a" style="left:17.8px;top:366px" width="19.2" height="19.2" viewBox="0 0 19 19"><rect x="0" y="0" width="19" height="19" rx="1.6" fill="#0b0b0b"/><rect x="1.5" y="1.5" width="16" height="16" fill="#f3f3f3"/><path d="M1.5 6.6H17.5M1.5 11.2H17.5M1.5 15H17.5M5.6 1.5V17.5M9.8 1.5V17.5M14 1.5V17.5" stroke="#d2d2d2" stroke-width=".8"/><path d="M2 16 5.2 13.2 7 15 17 4.2" stroke="#f04a23" stroke-width="1.7" fill="none" stroke-linejoin="miter"/></svg>
<span class="a t" style="top:365.17px;font-size:18px;line-height:23px;color:#fff;font-weight:700;letter-spacing:-0.179px;left:44.5px;">Predefined Charts</span>
<div class="a" style="left:16px;top:401px;width:287px;height:162px;background:#27272a;border:1px solid #3f3f46;border-radius:12px;border-left:4px solid #ad46ff;"></div>
<svg class="a" style="left:31.5px;top:413.5px;" width="18" height="18" viewBox="0 0 24 24" fill="none" stroke="#99a1af" stroke-width="1.8" stroke-linecap="round" stroke-linejoin="round"><path d="M3 3v18h18"/><path d="M18 17V9"/><path d="M13 17V5"/><path d="M8 17v-3"/></svg>
<span class="a t" style="top:415.01px;font-size:14px;line-height:18px;color:#fff;-webkit-text-stroke:0.56px;letter-spacing:0.028px;left:58px;">Funnel Conversion</span>
<span class="a t" style="top:438.88px;font-size:12px;line-height:16px;color:#d1d5dc;letter-spacing:-0.108px;left:58px;">Shows conversion between steps in a</span>
<span class="a t" style="top:454.88px;font-size:12px;line-height:16px;color:#d1d5dc;letter-spacing:-0.146px;left:58px;">player funnel.</span>
<div class="a" style="left:32px;top:478px;width:258px;height:48px;background:#18181b;border-radius:4px;"></div>
<div class="a" style="left:56.1px;top:501.5px;width:45.3px;height:14.5px;background:#00c49f;"></div>
<div class="a" style="left:111.1px;top:487px;width:45.3px;height:29px;background:#00c49f;"></div>
<div class="a" style="left:166.8px;top:508px;width:45.3px;height:8px;background:#00c49f;"></div>
<div class="a" style="left:221.4px;top:493.8px;width:45.3px;height:22.2px;background:#00c49f;"></div>
<span class="a t" style="top:534.78px;font-size:12px;line-height:16px;color:#6a7282;letter-spacing:-0.069px;left:32px;">Click to select</span>
<div class="a" style="left:16px;top:575px;width:287px;height:162px;background:#27272a;border:1px solid #3f3f46;border-radius:12px;"></div>
<svg class="a" style="left:28.5px;top:587.5px;" width="18" height="18" viewBox="0 0 24 24" fill="none" stroke="#99a1af" stroke-width="1.8" stroke-linecap="round" stroke-linejoin="round"><path d="M3 3v18h18"/><path d="M18 17V9"/><path d="M13 17V5"/><path d="M8 17v-3"/></svg>
<span class="a t" style="top:589.01px;font-size:14px;line-height:18px;color:#fff;-webkit-text-stroke:0.56px;letter-spacing:0.229px;left:55px;">Retention</span>
<span class="a t" style="top:612.88px;font-size:12px;line-height:16px;color:#d1d5dc;letter-spacing:-0.132px;left:55px;">Tracks day 1, 3, 7 retention of new players</span>
<span class="a t" style="top:628.88px;font-size:12px;line-height:16px;color:#d1d5dc;letter-spacing:-0.063px;left:55px;">by session activity after signup.</span>
<div class="a" style="left:29px;top:652px;width:261px;height:48px;background:#18181b;border-radius:4px;"></div>
<div class="a" style="left:54.4px;top:675.5px;width:45.3px;height:14.5px;background:#00c49f;"></div>
<div class="a" style="left:109.4px;top:661px;width:45.3px;height:29px;background:#00c49f;"></div>
<div class="a" style="left:165.1px;top:682px;width:45.3px;height:8px;background:#00c49f;"></div>
<div class="a" style="left:219.7px;top:667.8px;width:45.3px;height:22.2px;background:#00c49f;"></div>
<span class="a t" style="top:708.78px;font-size:12px;line-height:16px;color:#6a7282;letter-spacing:-0.069px;left:29px;">Click to select</span>
<div class="a" style="left:16px;top:749px;width:287px;height:162px;background:#27272a;border:1px solid #3f3f46;border-radius:12px;"></div>
<svg class="a" style="left:28.5px;top:761.5px;" width="18" height="18" viewBox="0 0 24 24" fill="none" stroke="#99a1af" stroke-width="1.8" stroke-linecap="round" stroke-linejoin="round"><path d="M3 3v18h18"/><path d="M18 17V9"/><path d="M13 17V5"/><path d="M8 17v-3"/></svg>
<span class="a t" style="top:763.01px;font-size:14px;line-height:18px;color:#fff;-webkit-text-stroke:0.56px;letter-spacing:0.005px;left:55px;">Session Duration Analysis</span>
<span class="a t" style="top:786.88px;font-size:12px;line-height:16px;color:#d1d5dc;letter-spacing:-0.121px;left:55px;">Calculate average session duration by</span>
<span class="a t" style="top:802.88px;font-size:12px;line-height:16px;color:#d1d5dc;letter-spacing:-0.151px;left:55px;">tracking join and leave events. Shows avg,...</span>
<div class="a" style="left:29px;top:826px;width:261px;height:48px;background:#18181b;border-radius:4px;"></div>
<div class="a" style="left:54.4px;top:849.5px;width:45.3px;height:14.5px;background:#00c49f;"></div>
<div class="a" style="left:109.4px;top:835px;width:45.3px;height:29px;background:#00c49f;"></div>
<div class="a" style="left:165.1px;top:856px;width:45.3px;height:8px;background:#00c49f;"></div>
<div class="a" style="left:219.7px;top:841.8px;width:45.3px;height:22.2px;background:#00c49f;"></div>
<span class="a t" style="top:882.78px;font-size:12px;line-height:16px;color:#6a7282;letter-spacing:-0.069px;left:29px;">Click to select</span>
<div class="a" style="left:16px;top:923px;width:287px;height:162px;background:#27272a;border:1px solid #3f3f46;border-radius:12px;"></div>
<svg class="a" style="left:28.5px;top:935.5px;" width="18" height="18" viewBox="0 0 24 24" fill="none" stroke="#99a1af" stroke-width="1.8" stroke-linecap="round" stroke-linejoin="round"><path d="M3 3v18h18"/><path d="M18 17V9"/><path d="M13 17V5"/><path d="M8 17v-3"/></svg>
<span class="a t" style="top:937.01px;font-size:14px;line-height:18px;color:#fff;-webkit-text-stroke:0.56px;letter-spacing:-0.477px;left:55px;">Sessions</span>
<span class="a t" style="top:960.88px;font-size:12px;line-height:16px;color:#d1d5dc;letter-spacing:-0.036px;left:55px;">Counts the number of sessions started by</span>
<span class="a t" style="top:976.88px;font-size:12px;line-height:16px;color:#d1d5dc;letter-spacing:-0.085px;left:55px;">users over time.</span>
<div class="a" style="left:29px;top:1000px;width:261px;height:48px;background:#18181b;border-radius:4px;"></div>
<div class="a" style="left:54.4px;top:1023.5px;width:45.3px;height:14.5px;background:#00c49f;"></div>
<div class="a" style="left:109.4px;top:1009px;width:45.3px;height:29px;background:#00c49f;"></div>
<div class="a" style="left:165.1px;top:1030px;width:45.3px;height:8px;background:#00c49f;"></div>
<div class="a" style="left:219.7px;top:1015.8px;width:45.3px;height:22.2px;background:#00c49f;"></div>
<span class="a t" style="top:1056.78px;font-size:12px;line-height:16px;color:#6a7282;letter-spacing:-0.069px;left:29px;">Click to select</span>
</div></body></html>
